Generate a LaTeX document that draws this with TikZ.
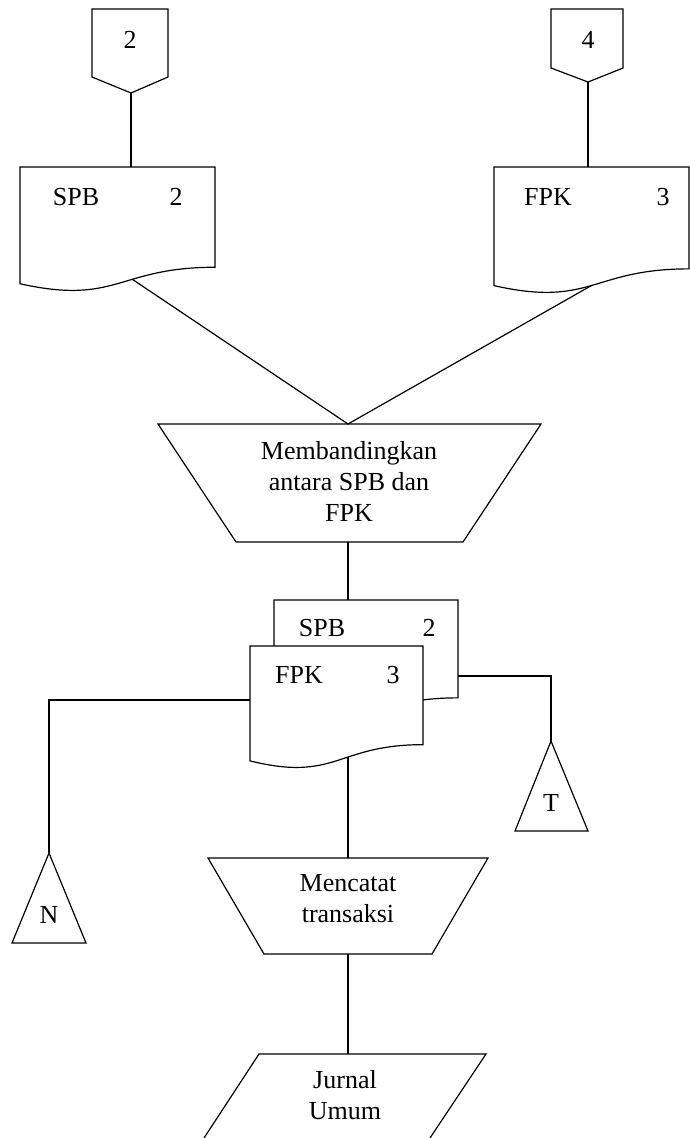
\documentclass[tikz,border=0pt]{standalone}
\usepackage{fontspec}
\setmainfont{Liberation Serif}

% Flowchart document symbol: left, right, top, height, name, position of the
% outgoing point along the wavy bottom edge (0 = right end, 1 = left end)
\newcommand\docshape[6]{%
  \draw[fill=white] (#1,#3) -- (#2,#3) -- (#2,{#3+0.802*#4})
    .. controls ({(#1+#2)/2},{#3+0.802*#4}) and ({(#1+#2)/2},{#3+1.1075*#4})
    .. coordinate[pos=#6] (#5-out) (#1,{#3+0.934*#4}) -- cycle;
  \coordinate (#5-top) at ({(#1+#2)/2},#3);
  \coordinate (#5-nw) at (#1,#3);
  \coordinate (#5-ne) at (#2,#3);
}

\begin{document}
\begin{tikzpicture}[x=1pt,y=-1pt,line width=1.2pt,line join=miter,
  lbl/.style={font=\fontsize{26}{31}\selectfont,inner sep=0pt,align=center}]
\useasboundingbox (0,0) rectangle (690,1138);

% off-page connectors
\draw (92,9) -- (168,9) -- (168,77) -- (131,93) -- (92,77) -- cycle;
\coordinate (opcA-s) at (131,93);
\node[lbl] (opcA) at (130,40) {2};
\draw (551,9) -- (623,9) -- (623,68) -- (588,82) -- (551,68) -- cycle;
\coordinate (opcB-s) at (588,82);
\node[lbl] (opcB) at (588,40) {4};

% incoming documents
\docshape{20}{215}{167}{125}{spbA}{0.4}
\node[lbl] (spbA-t) at (76,197) {SPB};
\node[lbl] (spbA-no) at (176,197) {2};
\docshape{494}{689}{167}{127}{fpkA}{0.5}
\node[lbl] (fpkA-t) at (548,197) {FPK};
\node[lbl] (fpkA-no) at (663,197) {3};

\draw (opcA-s) -- (opcA-s |- spbA-top);
\draw (opcB-s) -- (opcB-s |- fpkA-top);

% manual operation: compare
\draw (158,424) -- (541,424) -- (463,542) -- (236,542) -- cycle;
\coordinate (cmp-n) at (348,424);
\coordinate (cmp-s) at (348,542);
\node[lbl] (cmp) at (349,481) {Membandingkan\\antara SPB dan\\FPK};

\draw (spbA-out) -- (cmp-n) -- (fpkA-out);

% stacked documents after comparison
\docshape{274}{458}{600}{122}{spbB}{0.5}
\node[lbl] (spbB-t) at (322,628) {SPB};
\node[lbl] (spbB-no) at (429,628) {2};
\docshape{250}{423}{646}{123}{fpkB}{0.41}
\node[lbl] (fpkB-t) at (299,675) {FPK};
\node[lbl] (fpkB-no) at (393,675) {3};

\draw (cmp-s) -- (cmp-s |- spbB-top);

% file symbols
\draw (49,853) -- (86,943) -- (12,943) -- cycle;
\coordinate (fileN-top) at (49,853);
\node[lbl] (fileN) at (49,915) {N};
\draw (551,741) -- (588,831) -- (515,831) -- cycle;
\coordinate (fileT-top) at (551,741);
\node[lbl] (fileT) at (551,803) {T};

\coordinate (fpkB-w) at (250,700);
\coordinate (spbB-e) at (458,676);
\draw (fpkB-w) -| (fileN-top);
\draw (spbB-e) -| (fileT-top);

% manual operation: record
\draw (208,858) -- (488,858) -- (432,954) -- (264,954) -- cycle;
\coordinate (rec-n) at (348,858);
\coordinate (rec-s) at (348,954);
\node[lbl] (rec) at (348,899) {Mencatat\\transaksi};

\draw (rec-n |- fpkB-out) -- (rec-n);

% journal
\draw (204,1138) -- (259,1054) -- (486,1054) -- (430,1138);
\coordinate (jrn-n) at (348,1054);
\node[lbl] (jrn) at (345,1095) {Jurnal\\Umum};

\draw (rec-s) -- (jrn-n);
\end{tikzpicture}
\end{document}
